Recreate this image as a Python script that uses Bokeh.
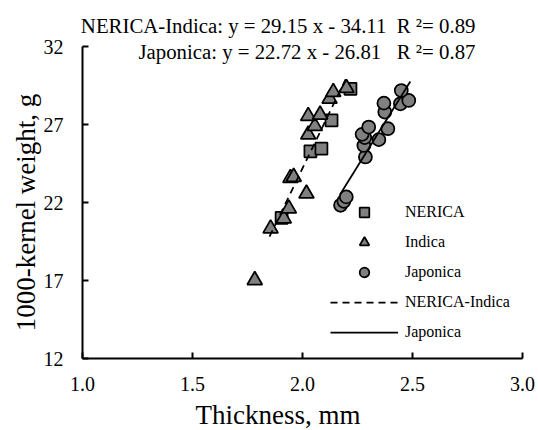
import math
from bokeh.plotting import figure
from bokeh.models import Label, Legend, LegendItem, FixedTicker, Range1d
from bokeh.embed import file_html
from bokeh.resources import INLINE

# ---- data ----
nerica_x = [1.905, 2.036, 2.086, 2.132, 2.218]
nerica_y = [21.01, 25.28, 25.45, 27.26, 29.29]

indica_x = [1.783, 1.855, 1.915, 1.938, 1.945, 1.960, 2.018, 2.026, 2.056, 2.026, 2.080, 2.123, 2.140, 2.200]
indica_y = [17.02, 20.33, 20.97, 21.61, 23.57, 23.64, 22.57, 26.35, 26.90, 27.54, 27.63, 28.65, 29.08, 29.33]

japonica_x = [2.173, 2.188, 2.199, 2.286, 2.279, 2.283, 2.271, 2.301, 2.347, 2.388, 2.374, 2.370, 2.445, 2.483, 2.449]
japonica_y = [21.82, 22.08, 22.36, 24.92, 25.66, 26.16, 26.37, 26.84, 26.03, 26.73, 27.80, 28.37, 28.33, 28.54, 29.18]

# regression fits: slope, intercept, R^2, x-extent of the trend line
ni_slope, ni_intercept, ni_r2 = 29.15, -34.11, 0.89
ni_x_extent = [1.85, 2.20]
jp_slope, jp_intercept, jp_r2 = 22.72, -26.81, 0.87
jp_x_extent = [2.17, 2.49]

x_ticks = [1.0, 1.5, 2.0, 2.5, 3.0]
y_ticks = [12, 17, 22, 27, 32]

FONT = "Liberation Serif"
GRAY = "#808080"
NB = "\u00a0"

# The frame covers the whole canvas so that no text is clipped; the axes are
# drawn at fixed locations (x=1.0, y=12) and bounded to the tick range.
p = figure(width=538, height=430, output_backend="svg", toolbar_location=None,
           x_range=Range1d(0.6273, 3.0727), y_range=Range1d(7.385, 34.95),
           min_border_left=0, min_border_right=0, min_border_top=0, min_border_bottom=0)
p.outline_line_color = None
p.grid.visible = False
p.background_fill_color = "white"
p.border_fill_color = "white"

# markers
r_n = p.scatter(nerica_x, nerica_y, marker="square", size=12, fill_color=GRAY,
                line_color="black", line_width=1.75)
r_i = p.scatter(indica_x, indica_y, marker="triangle", size=15, fill_color=GRAY,
                line_color="black", line_width=1.75)
r_j = p.scatter(japonica_x, japonica_y, marker="circle", size=13, fill_color=GRAY,
                line_color="black", line_width=1.75)

# trend lines
ni_y = [ni_slope * x + ni_intercept for x in ni_x_extent]
jp_y = [jp_slope * x + jp_intercept for x in jp_x_extent]
r_nl = p.line(ni_x_extent, ni_y, line_color="black", line_width=1.75, line_dash="7 5")
r_jl = p.line(jp_x_extent, jp_y, line_color="black", line_width=1.75)

# axes
for ax in (p.xaxis[0], p.yaxis[0]):
    ax.axis_line_color = "black"
    ax.axis_line_width = 2
    ax.major_tick_line_color = "black"
    ax.major_tick_line_width = 2
    ax.major_tick_in = 6
    ax.major_tick_out = 0
    ax.minor_tick_line_color = None
    ax.major_label_text_font = FONT
    ax.major_label_text_font_size = "20px"
    ax.major_label_text_color = "black"

p.xaxis.fixed_location = y_ticks[0]
p.xaxis.bounds = (x_ticks[0], x_ticks[-1])
p.xaxis.ticker = FixedTicker(ticks=x_ticks)
p.xaxis.major_label_overrides = {t: f"{t:.1f}" for t in x_ticks}
p.xaxis.major_label_standoff = 18

p.yaxis.fixed_location = x_ticks[0]
p.yaxis.bounds = (y_ticks[0], y_ticks[-1])
p.yaxis.ticker = FixedTicker(ticks=y_ticks)
p.yaxis.major_label_standoff = 19

# axis titles
p.add_layout(Label(x=1.889, y=7.40, text="Thickness, mm", text_font=FONT,
                   text_font_size="27px", text_align="center",
                   text_baseline="bottom", text_color="black"))
p.add_layout(Label(x=0.741, y=21.36, text="1000-kernel weight, g", text_font=FONT,
                   text_font_size="27px", text_align="center", angle=math.pi / 2,
                   text_baseline="middle", text_color="black"))

# equations
eq1 = f"NERICA-Indica: y = {ni_slope:.2f} x - {abs(ni_intercept):.2f}{NB}{NB}R{NB}\u00b2= {ni_r2:.2f}"
eq2 = f"Japonica: y = {jp_slope:.2f} x - {abs(jp_intercept):.2f}{NB}{NB}{NB}R{NB}\u00b2= {jp_r2:.2f}"
p.add_layout(Label(x=2.786, y=33.34, text=eq1, text_font=FONT, text_font_size="20.8px",
                   text_align="right", text_baseline="alphabetic", text_color="black"))
p.add_layout(Label(x=2.786, y=31.67, text=eq2, text_font=FONT, text_font_size="20.8px",
                   text_align="right", text_baseline="alphabetic", text_color="black"))

legend = Legend(items=[
    LegendItem(label="NERICA", renderers=[r_n]),
    LegendItem(label="Indica", renderers=[r_i]),
    LegendItem(label="Japonica", renderers=[r_j]),
    LegendItem(label="NERICA-Indica", renderers=[r_nl]),
    LegendItem(label="Japonica", renderers=[r_jl]),
], location=(330, 86))
legend.glyph_width = 68
legend.glyph_height = 24
legend.label_height = 24
legend.spacing = 6
legend.label_standoff = 7
legend.padding = 0
legend.margin = 0
legend.border_line_alpha = 0
legend.background_fill_alpha = 0
legend.label_text_font = FONT
legend.label_text_font_size = "16px"
legend.label_text_color = "black"
p.add_layout(legend)

open("out.html", "w").write(file_html(p, INLINE))
